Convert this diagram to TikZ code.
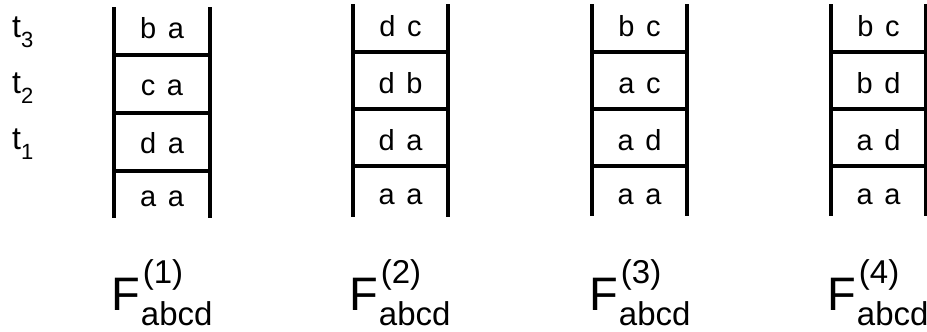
\documentclass[tikz,border=0pt]{standalone}
\usepackage{fontspec}
\setmainfont{Liberation Sans}
\newcommand{\pr}[2]{#1\hspace{0.4em}#2}
\newcommand{\Flab}[1]{\fontsize{47}{47}\selectfont F\rlap{\hspace{3pt}\raisebox{27pt}{\fontsize{33}{33}\selectfont(#1)}}\hspace{1pt}\raisebox{-15.5pt}{\fontsize{33}{33}\selectfont abcd}}
\newcommand{\tl}[1]{t\raisebox{-10pt}{\fontsize{22}{22}\selectfont #1}}
\begin{document}
\begin{tikzpicture}[x=1pt,y=-1pt,
  rail/.style={line width=3.3pt},
  cell/.style={font=\fontsize{29}{29}\selectfont, anchor=base, inner sep=0pt},
  tlab/.style={anchor=base west, inner sep=0pt, font=\fontsize{32}{32}\selectfont},
  flab/.style={anchor=base west, inner sep=0pt}]
\useasboundingbox (0,0) rectangle (927,332);

% time labels
\node[tlab] (t3) at (12,37) {\tl{3}};
\node[tlab] (t2) at (12,93) {\tl{2}};
\node[tlab] (t1) at (12,149) {\tl{1}};

% ladder 1
\draw[rail] (114,7) -- (114,218);
\draw[rail] (210,7) -- (210,218);
\foreach \y in {55,113,171} \draw[rail] (114,\y) -- (210,\y);
\node[cell] (a1) at (162,38) {\pr{b}{a}};
\node[cell] (a2) at (162,95) {\pr{c}{a}};
\node[cell] (a3) at (162,153) {\pr{d}{a}};
\node[cell] (a4) at (162,206) {\pr{a}{a}};

% ladder 2
\draw[rail] (353,4) -- (353,217);
\draw[rail] (448,4) -- (448,217);
\foreach \y in {52,109,166} \draw[rail] (353,\y) -- (448,\y);
\node[cell] (b1) at (400.5,36) {\pr{d}{c}};
\node[cell] (b2) at (400.5,93) {\pr{d}{b}};
\node[cell] (b3) at (400.5,150) {\pr{d}{a}};
\node[cell] (b4) at (400.5,204) {\pr{a}{a}};

% ladder 3
\draw[rail] (592,4) -- (592,216);
\draw[rail] (687,4) -- (687,216);
\foreach \y in {52,109,166} \draw[rail] (592,\y) -- (687,\y);
\node[cell] (c1) at (639.5,36) {\pr{b}{c}};
\node[cell] (c2) at (639.5,93) {\pr{a}{c}};
\node[cell] (c3) at (639.5,150) {\pr{a}{d}};
\node[cell] (c4) at (639.5,204) {\pr{a}{a}};

% ladder 4
\draw[rail] (831,4) -- (831,216);
\draw[rail] (926,4) -- (926,216);
\foreach \y in {52,109,166} \draw[rail] (831,\y) -- (926,\y);
\node[cell] (d1) at (878.5,36) {\pr{b}{c}};
\node[cell] (d2) at (878.5,93) {\pr{b}{d}};
\node[cell] (d3) at (878.5,150) {\pr{a}{d}};
\node[cell] (d4) at (878.5,204) {\pr{a}{a}};

% function labels
\node[flab] (F1) at (111,310) {\Flab{1}};
\node[flab] (F2) at (349,310) {\Flab{2}};
\node[flab] (F3) at (589,310) {\Flab{3}};
\node[flab] (F4) at (827,310) {\Flab{4}};
\end{tikzpicture}
\end{document}
